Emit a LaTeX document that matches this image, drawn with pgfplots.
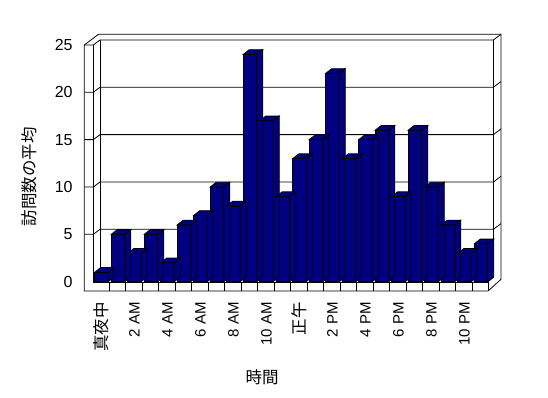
\documentclass[border=0pt]{standalone}
\usepackage{fontspec}
\setmainfont{Liberation Sans}
\newfontfamily\cjk{Noto Sans CJK JP}
\usepackage{pgfplots}
\pgfplotsset{compat=1.18}
\usepackage{pgfplotstable}
\definecolor{navy}{RGB}{0,0,128}

\pgfplotstableread{
x y
0 1
1 5
2 3
3 5
4 2
5 6
6 7
7 10
8 8
9 24
10 17
11 9
12 13
13 15
14 22
15 13
16 15
17 16
18 9
19 16
20 10
21 6
22 3
23 4
}\visits

% side and top faces of a 3D column, drawn at the data point (front top centre)
\pgfdeclareplotmark{box3d}{%
  \pgfmathsetmacro\hh{\rawy*9.47}%
  \pgfmathsetmacro\hb{4.7-\hh}%
  \pgfpathmoveto{\pgfpoint{6.75pt}{0pt}}%
  \pgfpathlineto{\pgfpoint{12.75pt}{4.7pt}}%
  \pgfpathlineto{\pgfpoint{12.75pt}{\hb pt}}%
  \pgfpathlineto{\pgfpoint{6.75pt}{-\hh pt}}%
  \pgfpathclose
  \pgfusepath{fill,stroke}%
  \pgfpathmoveto{\pgfpoint{-6.75pt}{0pt}}%
  \pgfpathlineto{\pgfpoint{6.75pt}{0pt}}%
  \pgfpathlineto{\pgfpoint{12.75pt}{4.7pt}}%
  \pgfpathlineto{\pgfpoint{-0.75pt}{4.7pt}}%
  \pgfpathclose
  \pgfusepath{fill,stroke}%
}

\begin{document}
\begin{tikzpicture}
\begin{scope}[x=1pt, y=-1pt, shift={(-84.3pt,291pt)}, line width=0.8pt]
  \path (0,0) rectangle (548,398);
  \draw (84.3,291) -- (84.3,45) -- (98.5,34.3) -- (501,34.3) -- (501,279.3) -- (488,291) -- cycle;
  \draw (84.3,45) -- (93.3,45) -- (100,40) -- (493.3,40) -- (501,34.3);
  \draw (93.3,45) -- (93.3,282) -- (488,282) -- (488,291);
  \draw (100,40) -- (100,277) -- (493.3,277) -- (493.3,40);
  \draw (488,282) -- (493.3,277);
  \foreach \v in {5,10,15,20} {
    \pgfmathsetmacro\pf{281.7-9.47*\v}
    \pgfmathsetmacro\pb{\pf-5}
    \draw (84.3,\pf) -- (93.3,\pf) -- (100,\pb) -- (493.3,\pb) -- (501,\pb-5.7);
  }
  \foreach \k in {0,...,22} {
    \draw (109.3+16.5*\k,282) -- (109.3+16.5*\k,291);
  }
  \node[rotate=90, font=\cjk\fontsize{16.5}{19}\selectfont] at (29,177) {訪問数の平均};
  \node[font=\cjk\fontsize{16.5}{19}\selectfont] at (262,377) {時間};
\end{scope}
\begin{axis}[
  x=16.5pt, y=9.47pt,
  xmin=-1.04242, xmax=24.2121, ymin=-0.98205, ymax=26.1246,
  axis line style={draw=none}, tick style={draw=none}, major tick length=0pt,
  clip=false,
  ytick={0,5,...,25},
  xtick={0,2,...,22},
  xticklabels={{\cjk\fontsize{16.5}{19}\selectfont 真夜中},2 AM,4 AM,6 AM,8 AM,10 AM,{\cjk\fontsize{16.5}{19}\selectfont 正午},2 PM,4 PM,6 PM,8 PM,10 PM},
  xticklabel style={font=\fontsize{15}{18}\selectfont, inner sep=0pt, yshift=-11pt, rotate=90, anchor=east},
  yticklabel style={font=\fontsize{16}{19}\selectfont, inner sep=0pt, xshift=-11.5pt},
  /pgf/number format/assume math mode=true,
]
\addplot[only marks, mark=box3d, mark options={fill=navy, draw=black, line width=0.8pt, solid},
  visualization depends on={y \as \rawy}] table[x=x,y=y]{\visits};
\addplot[ybar, bar width=13.5pt, bar shift=0pt, fill=navy, draw=black, line width=0.8pt]
  table[x=x,y=y]{\visits};
\end{axis}
\end{tikzpicture}
\end{document}
